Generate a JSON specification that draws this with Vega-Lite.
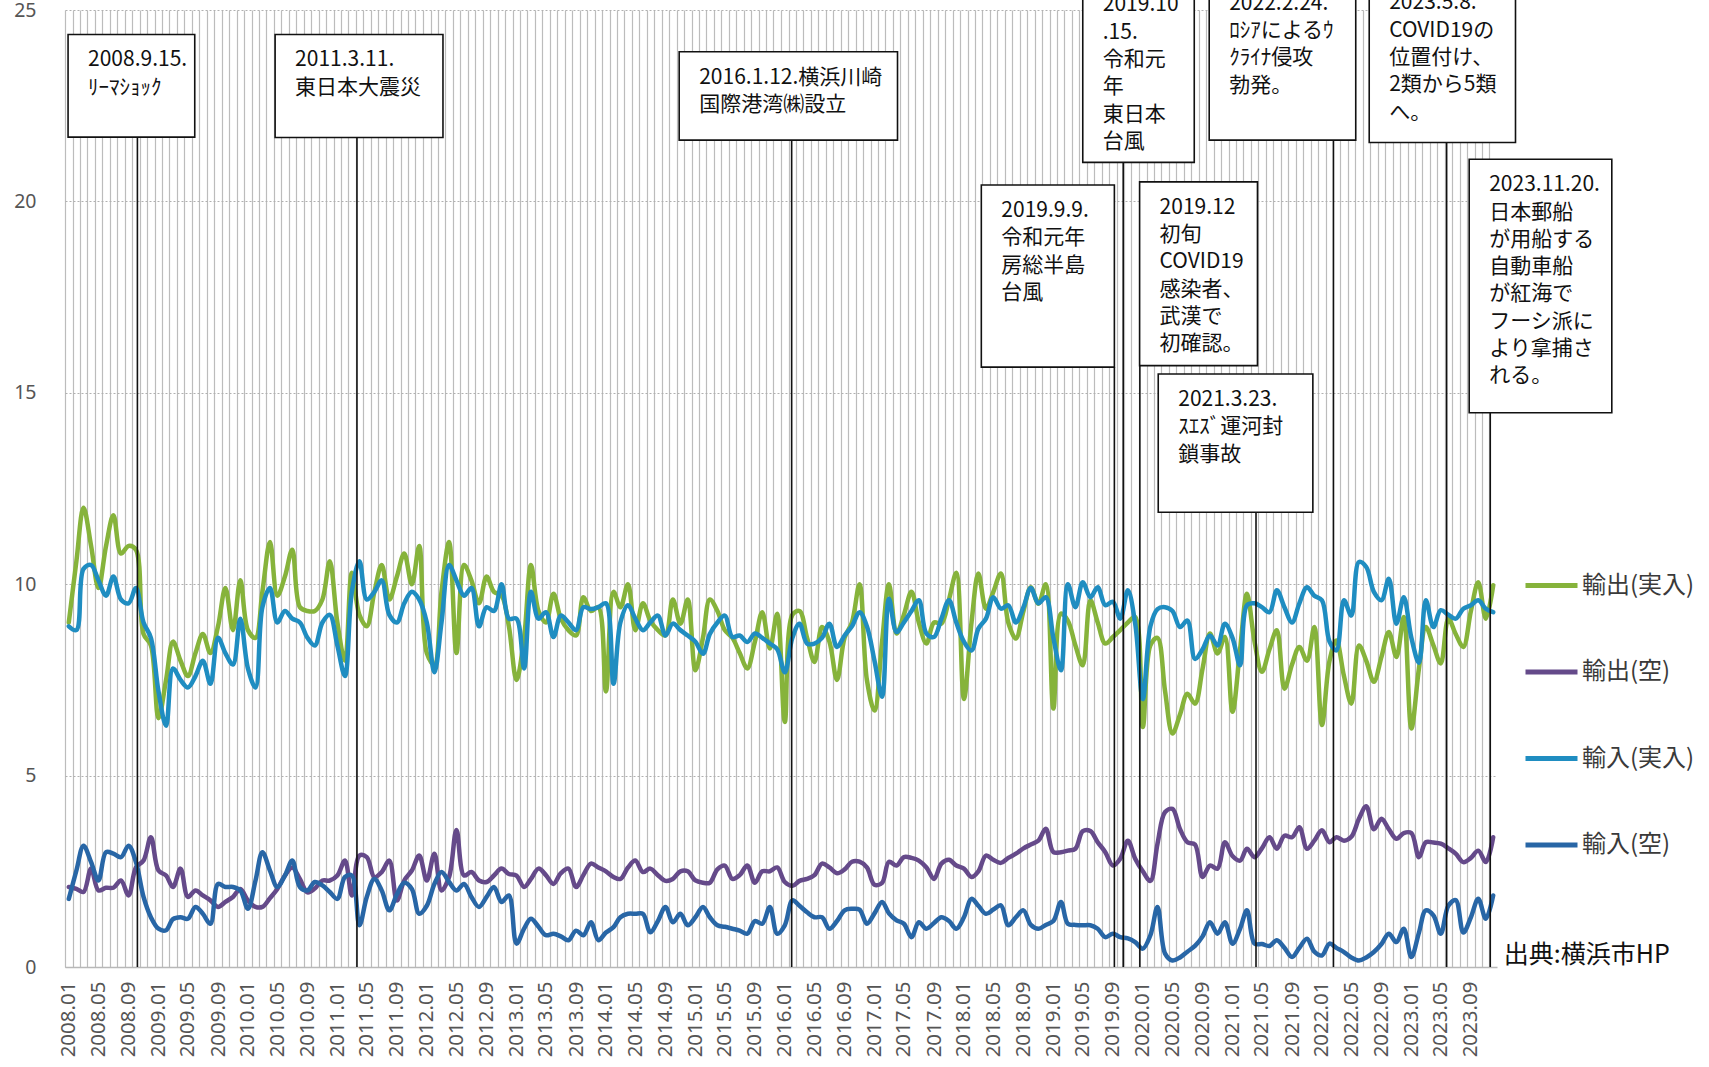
{
"$schema":"https://vega.github.io/schema/vega-lite/v6.json",
"width":1432,"height":957,
"autosize":{"type":"none"},
"padding":{"left":65,"top":10,"right":212,"bottom":100},
"background":"white",
"config":{"view":{"stroke":null},"font":"Noto Sans CJK JP"},
"datasets":{
"monthly":[
{"月":"2008-01-01","輸出(実入)":9.0,"輸出(空)":2.09,"輸入(実入)":8.9,"輸入(空)":1.78},
{"月":"2008-02-01","輸出(実入)":10.6,"輸出(空)":2.04,"輸入(実入)":8.8,"輸入(空)":2.52},
{"月":"2008-03-01","輸出(実入)":12.0,"輸出(空)":1.96,"輸入(実入)":10.4,"輸入(空)":3.17},
{"月":"2008-04-01","輸出(実入)":11.0,"輸出(空)":2.57,"輸入(実入)":10.5,"輸入(空)":2.74},
{"月":"2008-05-01","輸出(実入)":9.9,"輸出(空)":2.0,"輸入(実入)":10.1,"輸入(空)":2.26},
{"月":"2008-06-01","輸出(実入)":11.0,"輸出(空)":2.07,"輸入(実入)":9.7,"輸入(空)":3.0},
{"月":"2008-07-01","輸出(実入)":11.8,"輸出(空)":2.07,"輸入(実入)":10.2,"輸入(空)":2.96},
{"月":"2008-08-01","輸出(実入)":10.8,"輸出(空)":2.26,"輸入(実入)":9.6,"輸入(空)":2.87},
{"月":"2008-09-01","輸出(実入)":11.0,"輸出(空)":1.87,"輸入(実入)":9.5,"輸入(空)":3.17},
{"月":"2008-10-01","輸出(実入)":10.9,"輸出(空)":2.6,"輸入(実入)":9.9,"輸入(空)":2.74},
{"月":"2008-11-01","輸出(実入)":8.7,"輸出(空)":2.78,"輸入(実入)":9.0,"輸入(空)":1.83},
{"月":"2008-12-01","輸出(実入)":8.4,"輸出(空)":3.39,"輸入(実入)":8.6,"輸入(空)":1.3},
{"月":"2009-01-01","輸出(実入)":6.5,"輸出(空)":2.52,"輸入(実入)":7.2,"輸入(空)":1.0},
{"月":"2009-02-01","輸出(実入)":7.5,"輸出(空)":2.39,"輸入(実入)":6.3,"輸入(空)":0.96},
{"月":"2009-03-01","輸出(実入)":8.5,"輸出(空)":2.09,"輸入(実入)":7.8,"輸入(空)":1.25},
{"月":"2009-04-01","輸出(実入)":8.0,"輸出(空)":2.57,"輸入(実入)":7.5,"輸入(空)":1.3},
{"月":"2009-05-01","輸出(実入)":7.6,"輸出(空)":1.83,"輸入(実入)":7.3,"輸入(空)":1.26},
{"月":"2009-06-01","輸出(実入)":8.2,"輸出(空)":2.0,"輸入(実入)":7.6,"輸入(空)":1.57},
{"月":"2009-07-01","輸出(実入)":8.7,"輸出(空)":1.87,"輸入(実入)":8.0,"輸入(空)":1.39},
{"月":"2009-08-01","輸出(実入)":8.2,"輸出(空)":1.74,"輸入(実入)":7.4,"輸入(空)":1.13},
{"月":"2009-09-01","輸出(実入)":8.9,"輸出(空)":1.57,"輸入(実入)":8.6,"輸入(空)":2.17},
{"月":"2009-10-01","輸出(実入)":9.9,"輸出(空)":1.7,"輸入(実入)":8.2,"輸入(空)":2.09},
{"月":"2009-11-01","輸出(実入)":8.8,"輸出(空)":1.83,"輸入(実入)":7.9,"輸入(空)":2.09},
{"月":"2009-12-01","輸出(実入)":10.1,"輸出(空)":2.04,"輸入(実入)":9.1,"輸入(空)":2.0},
{"月":"2010-01-01","輸出(実入)":8.8,"輸出(空)":1.74,"輸入(実入)":7.8,"輸入(空)":1.52},
{"月":"2010-02-01","輸出(実入)":8.6,"輸出(空)":1.57,"輸入(実入)":7.3,"輸入(空)":2.26},
{"月":"2010-03-01","輸出(実入)":9.8,"輸出(空)":1.57,"輸入(実入)":9.4,"輸入(空)":3.0},
{"月":"2010-04-01","輸出(実入)":11.1,"輸出(空)":1.8,"輸入(実入)":9.9,"輸入(空)":2.52},
{"月":"2010-05-01","輸出(実入)":9.7,"輸出(空)":2.04,"輸入(実入)":9.0,"輸入(空)":2.09},
{"月":"2010-06-01","輸出(実入)":10.2,"輸出(空)":2.39,"輸入(実入)":9.3,"輸入(空)":2.39},
{"月":"2010-07-01","輸出(実入)":10.9,"輸出(空)":2.6,"輸入(実入)":9.1,"輸入(空)":2.78},
{"月":"2010-08-01","輸出(実入)":9.4,"輸出(空)":2.3,"輸入(実入)":9.0,"輸入(空)":2.09},
{"月":"2010-09-01","輸出(実入)":9.3,"輸出(空)":1.95,"輸入(実入)":8.6,"輸入(空)":2.0},
{"月":"2010-10-01","輸出(実入)":9.3,"輸出(空)":2.05,"輸入(実入)":8.4,"輸入(空)":2.22},
{"月":"2010-11-01","輸出(実入)":9.6,"輸出(空)":2.26,"輸入(実入)":9.0,"輸入(空)":2.13},
{"月":"2010-12-01","輸出(実入)":10.6,"輸出(空)":2.26,"輸入(実入)":9.2,"輸入(空)":1.96},
{"月":"2011-01-01","輸出(実入)":9.0,"輸出(空)":2.39,"輸入(実入)":8.4,"輸入(空)":1.78},
{"月":"2011-02-01","輸出(実入)":8.0,"輸出(空)":2.78,"輸入(実入)":7.6,"輸入(空)":2.35},
{"月":"2011-03-01","輸出(実入)":10.3,"輸出(空)":1.87,"輸入(実入)":9.8,"輸入(空)":2.39},
{"月":"2011-04-01","輸出(実入)":9.2,"輸出(空)":2.91,"輸入(実入)":10.6,"輸入(空)":1.09},
{"月":"2011-05-01","輸出(実入)":8.9,"輸出(空)":2.87,"輸入(実入)":9.6,"輸入(空)":1.83},
{"月":"2011-06-01","輸出(実入)":9.8,"輸出(空)":2.35,"輸入(実入)":9.8,"輸入(空)":2.3},
{"月":"2011-07-01","輸出(実入)":10.5,"輸出(空)":2.48,"輸入(実入)":10.1,"輸入(空)":2.0},
{"月":"2011-08-01","輸出(実入)":9.6,"輸出(空)":2.78,"輸入(実入)":9.2,"輸入(空)":1.48},
{"月":"2011-09-01","輸出(実入)":10.2,"輸出(空)":1.74,"輸入(実入)":9.0,"輸入(空)":1.9},
{"月":"2011-10-01","輸出(実入)":10.8,"輸出(空)":2.26,"輸入(実入)":9.5,"輸入(空)":2.2},
{"月":"2011-11-01","輸出(実入)":10.0,"輸出(空)":2.52,"輸入(実入)":9.8,"輸入(空)":2.04},
{"月":"2011-12-01","輸出(実入)":11.0,"輸出(空)":2.91,"輸入(実入)":9.6,"輸入(空)":1.39},
{"月":"2012-01-01","輸出(実入)":8.2,"輸出(空)":2.26,"輸入(実入)":9.0,"輸入(空)":1.6},
{"月":"2012-02-01","輸出(実入)":7.9,"輸出(空)":2.96,"輸入(実入)":7.7,"輸入(空)":2.17},
{"月":"2012-03-01","輸出(実入)":9.8,"輸出(空)":2.0,"輸入(実入)":9.0,"輸入(空)":2.48},
{"月":"2012-04-01","輸出(実入)":11.1,"輸出(空)":2.35,"輸入(実入)":10.5,"輸入(空)":2.22},
{"月":"2012-05-01","輸出(実入)":8.2,"輸出(空)":3.58,"輸入(実入)":10.1,"輸入(空)":2.0},
{"月":"2012-06-01","輸出(実入)":10.5,"輸出(空)":2.39,"輸入(実入)":9.7,"輸入(空)":2.17},
{"月":"2012-07-01","輸出(実入)":10.1,"輸出(空)":2.48,"輸入(実入)":9.9,"輸入(空)":1.83},
{"月":"2012-08-01","輸出(実入)":9.5,"輸出(空)":2.26,"輸入(実入)":8.9,"輸入(空)":1.57},
{"月":"2012-09-01","輸出(実入)":10.2,"輸出(空)":2.22,"輸入(実入)":9.4,"輸入(空)":1.83},
{"月":"2012-10-01","輸出(実入)":9.8,"輸出(空)":2.39,"輸入(実入)":9.3,"輸入(空)":2.09},
{"月":"2012-11-01","輸出(実入)":9.7,"輸出(空)":2.57,"輸入(実入)":10.0,"輸入(空)":1.7},
{"月":"2012-12-01","輸出(実入)":8.9,"輸出(空)":2.43,"輸入(実入)":9.1,"輸入(空)":1.87},
{"月":"2013-01-01","輸出(実入)":7.5,"輸出(空)":2.39,"輸入(実入)":9.1,"輸入(空)":0.61},
{"月":"2013-02-01","輸出(実入)":8.6,"輸出(空)":2.09,"輸入(実入)":7.8,"輸入(空)":1.0},
{"月":"2013-03-01","輸出(実入)":10.5,"輸出(空)":2.3,"輸入(実入)":9.8,"輸入(空)":1.26},
{"月":"2013-04-01","輸出(実入)":9.3,"輸出(空)":2.57,"輸入(実入)":9.1,"輸入(空)":1.05},
{"月":"2013-05-01","輸出(実入)":9.0,"輸出(空)":2.4,"輸入(実入)":9.27,"輸入(空)":0.83},
{"月":"2013-06-01","輸出(実入)":9.75,"輸出(空)":2.17,"輸入(実入)":8.62,"輸入(空)":0.87},
{"月":"2013-07-01","輸出(実入)":9.1,"輸出(空)":2.45,"輸入(実入)":9.18,"輸入(空)":0.8},
{"月":"2013-08-01","輸出(実入)":8.8,"輸出(空)":2.57,"輸入(実入)":9.0,"輸入(空)":0.7},
{"月":"2013-09-01","輸出(実入)":8.66,"輸出(空)":2.09,"輸入(実入)":8.8,"輸入(空)":0.95},
{"月":"2013-10-01","輸出(実入)":9.66,"輸出(空)":2.4,"輸入(実入)":9.4,"輸入(空)":0.83},
{"月":"2013-11-01","輸出(実入)":9.3,"輸出(空)":2.7,"輸入(実入)":9.35,"輸入(空)":1.17},
{"月":"2013-12-01","輸出(実入)":9.4,"輸出(空)":2.6,"輸入(実入)":9.4,"輸入(空)":0.7},
{"月":"2014-01-01","輸出(実入)":7.2,"輸出(空)":2.5,"輸入(実入)":9.5,"輸入(空)":0.9},
{"月":"2014-02-01","輸出(実入)":9.8,"輸出(空)":2.35,"輸入(実入)":7.4,"輸入(空)":1.04},
{"月":"2014-03-01","輸出(実入)":9.4,"輸出(空)":2.3,"輸入(実入)":9.0,"輸入(空)":1.3},
{"月":"2014-04-01","輸出(実入)":10.0,"輸出(空)":2.6,"輸入(実入)":9.45,"輸入(空)":1.39},
{"月":"2014-05-01","輸出(実入)":8.8,"輸出(空)":2.78,"輸入(実入)":9.1,"輸入(空)":1.39},
{"月":"2014-06-01","輸出(実入)":9.5,"輸出(空)":2.48,"輸入(実入)":8.8,"輸入(空)":1.39},
{"月":"2014-07-01","輸出(実入)":9.05,"輸出(空)":2.57,"輸入(実入)":9.0,"輸入(空)":0.91},
{"月":"2014-08-01","輸出(実入)":8.8,"輸出(空)":2.4,"輸入(実入)":9.18,"輸入(空)":1.2},
{"月":"2014-09-01","輸出(実入)":8.66,"輸出(空)":2.25,"輸入(実入)":8.66,"輸入(空)":1.57},
{"月":"2014-10-01","輸出(実入)":9.6,"輸出(空)":2.3,"輸入(実入)":8.97,"輸入(空)":1.17},
{"月":"2014-11-01","輸出(実入)":8.97,"輸出(空)":2.5,"輸入(実入)":8.8,"輸入(空)":1.39},
{"月":"2014-12-01","輸出(実入)":9.6,"輸出(空)":2.5,"輸入(実入)":8.66,"輸入(空)":1.09},
{"月":"2015-01-01","輸出(実入)":7.75,"輸出(空)":2.26,"輸入(実入)":8.5,"輸入(空)":1.3},
{"月":"2015-02-01","輸出(実入)":8.6,"輸出(空)":2.2,"輸入(実入)":8.18,"輸入(空)":1.57},
{"月":"2015-03-01","輸出(実入)":9.6,"輸出(空)":2.2,"輸入(実入)":8.7,"輸入(空)":1.3},
{"月":"2015-04-01","輸出(実入)":9.3,"輸出(空)":2.55,"輸入(実入)":9.0,"輸入(空)":1.09},
{"月":"2015-05-01","輸出(実入)":8.8,"輸出(空)":2.65,"輸入(実入)":9.18,"輸入(空)":1.05},
{"月":"2015-06-01","輸出(実入)":8.6,"輸出(空)":2.3,"輸入(実入)":8.62,"輸入(空)":1.0},
{"月":"2015-07-01","輸出(実入)":8.2,"輸出(空)":2.4,"輸入(実入)":8.66,"輸入(空)":0.95},
{"月":"2015-08-01","輸出(実入)":7.8,"輸出(空)":2.65,"輸入(実入)":8.49,"輸入(空)":0.87},
{"月":"2015-09-01","輸出(実入)":8.5,"輸出(空)":2.2,"輸入(実入)":8.71,"輸入(空)":1.2},
{"月":"2015-10-01","輸出(実入)":9.27,"輸出(空)":2.5,"輸入(実入)":8.6,"輸入(空)":1.13},
{"月":"2015-11-01","輸出(実入)":8.32,"輸出(空)":2.5,"輸入(実入)":8.45,"輸入(空)":1.57},
{"月":"2015-12-01","輸出(実入)":9.23,"輸出(空)":2.6,"輸入(実入)":8.3,"輸入(空)":0.87},
{"月":"2016-01-01","輸出(実入)":6.4,"輸出(空)":2.22,"輸入(実入)":7.7,"輸入(空)":1.09},
{"月":"2016-02-01","輸出(実入)":9.2,"輸出(空)":2.12,"輸入(実入)":8.6,"輸入(空)":1.74},
{"月":"2016-03-01","輸出(実入)":9.3,"輸出(空)":2.25,"輸入(実入)":8.97,"輸入(空)":1.6},
{"月":"2016-04-01","輸出(実入)":8.6,"輸出(空)":2.3,"輸入(実入)":8.45,"輸入(空)":1.43},
{"月":"2016-05-01","輸出(実入)":7.97,"輸出(空)":2.4,"輸入(実入)":8.45,"輸入(空)":1.3},
{"月":"2016-06-01","輸出(実入)":8.88,"輸出(空)":2.7,"輸入(実入)":8.6,"輸入(空)":1.3},
{"月":"2016-07-01","輸出(実入)":8.5,"輸出(空)":2.6,"輸入(実入)":8.97,"輸入(空)":1.0},
{"月":"2016-08-01","輸出(実入)":7.5,"輸出(空)":2.45,"輸入(実入)":8.36,"輸入(空)":1.2},
{"月":"2016-09-01","輸出(実入)":8.6,"輸出(空)":2.55,"輸入(実入)":8.66,"輸入(空)":1.48},
{"月":"2016-10-01","輸出(実入)":9.0,"輸出(空)":2.75,"輸入(実入)":8.9,"輸入(空)":1.52},
{"月":"2016-11-01","輸出(実入)":10.0,"輸出(空)":2.75,"輸入(実入)":9.27,"輸入(空)":1.5},
{"月":"2016-12-01","輸出(実入)":7.5,"輸出(空)":2.6,"輸入(実入)":8.9,"輸入(空)":1.13},
{"月":"2017-01-01","輸出(実入)":6.7,"輸出(空)":2.15,"輸入(実入)":8.0,"輸入(空)":1.4},
{"月":"2017-02-01","輸出(実入)":8.5,"輸出(空)":2.2,"輸入(実入)":7.06,"輸入(空)":1.7},
{"月":"2017-03-01","輸出(実入)":10.0,"輸出(空)":2.75,"輸入(実入)":9.62,"輸入(空)":1.4},
{"月":"2017-04-01","輸出(実入)":8.71,"輸出(空)":2.65,"輸入(実入)":8.75,"輸入(空)":1.22},
{"月":"2017-05-01","輸出(実入)":9.2,"輸出(空)":2.87,"輸入(実入)":9.0,"輸入(空)":1.13},
{"月":"2017-06-01","輸出(実入)":9.8,"輸出(空)":2.85,"輸入(実入)":9.3,"輸入(空)":0.78},
{"月":"2017-07-01","輸出(実入)":9.0,"輸出(空)":2.78,"輸入(実入)":9.58,"輸入(空)":1.17},
{"月":"2017-08-01","輸出(実入)":8.45,"輸出(空)":2.6,"輸入(実入)":8.71,"輸入(空)":1.0},
{"月":"2017-09-01","輸出(実入)":9.0,"輸出(空)":2.3,"輸入(実入)":8.62,"輸入(空)":1.15},
{"月":"2017-10-01","輸出(実入)":8.97,"輸出(空)":2.7,"輸入(実入)":9.1,"輸入(空)":1.3},
{"月":"2017-11-01","輸出(実入)":9.6,"輸出(空)":2.8,"輸入(実入)":9.58,"輸入(空)":1.2},
{"月":"2017-12-01","輸出(実入)":10.3,"輸出(空)":2.65,"輸入(実入)":9.0,"輸入(空)":1.0},
{"月":"2018-01-01","輸出(実入)":7.0,"輸出(空)":2.57,"輸入(実入)":8.5,"輸入(空)":1.3},
{"月":"2018-02-01","輸出(実入)":9.0,"輸出(空)":2.35,"輸入(実入)":8.27,"輸入(空)":1.78},
{"月":"2018-03-01","輸出(実入)":10.28,"輸出(空)":2.5,"輸入(実入)":8.84,"輸入(空)":1.6},
{"月":"2018-04-01","輸出(実入)":9.36,"輸出(空)":2.91,"輸入(実入)":9.1,"輸入(空)":1.39},
{"月":"2018-05-01","輸出(実入)":9.8,"輸出(空)":2.8,"輸入(実入)":9.66,"輸入(空)":1.5},
{"月":"2018-06-01","輸出(実入)":10.28,"輸出(空)":2.72,"輸入(実入)":9.36,"輸入(空)":1.61},
{"月":"2018-07-01","輸出(実入)":9.0,"輸出(空)":2.85,"輸入(実入)":9.45,"輸入(空)":1.09},
{"月":"2018-08-01","輸出(実入)":8.58,"輸出(空)":2.96,"輸入(実入)":9.0,"輸入(空)":1.3},
{"月":"2018-09-01","輸出(実入)":9.3,"輸出(空)":3.1,"輸入(実入)":9.4,"輸入(空)":1.48},
{"月":"2018-10-01","輸出(実入)":9.92,"輸出(空)":3.2,"輸入(実入)":9.9,"輸入(空)":1.1},
{"月":"2018-11-01","輸出(実入)":9.49,"輸出(空)":3.3,"輸入(実入)":9.5,"輸入(空)":1.0},
{"月":"2018-12-01","輸出(実入)":10.0,"輸出(空)":3.61,"輸入(実入)":9.66,"輸入(空)":1.1},
{"月":"2019-01-01","輸出(実入)":6.75,"輸出(空)":3.0,"輸入(実入)":8.6,"輸入(空)":1.2},
{"月":"2019-02-01","輸出(実入)":9.23,"輸出(空)":3.0,"輸入(実入)":7.75,"輸入(空)":1.7},
{"月":"2019-03-01","輸出(実入)":9.05,"輸出(空)":3.04,"輸入(実入)":10.0,"輸入(空)":1.13},
{"月":"2019-04-01","輸出(実入)":8.4,"輸出(空)":3.09,"輸入(実入)":9.4,"輸入(空)":1.1},
{"月":"2019-05-01","輸出(実入)":7.88,"輸出(空)":3.55,"輸入(実入)":10.05,"輸入(空)":1.09},
{"月":"2019-06-01","輸出(実入)":9.58,"輸出(空)":3.55,"輸入(実入)":9.66,"輸入(空)":1.09},
{"月":"2019-07-01","輸出(実入)":9.0,"輸出(空)":3.26,"輸入(実入)":9.92,"輸入(空)":1.0},
{"月":"2019-08-01","輸出(実入)":8.45,"輸出(空)":3.0,"輸入(実入)":9.45,"輸入(空)":0.78},
{"月":"2019-09-01","輸出(実入)":8.62,"輸出(空)":2.65,"輸入(実入)":9.54,"輸入(空)":0.87},
{"月":"2019-10-01","輸出(実入)":8.8,"輸出(空)":2.83,"輸入(実入)":9.1,"輸入(空)":0.78},
{"月":"2019-11-01","輸出(実入)":9.0,"輸出(空)":3.3,"輸入(実入)":9.84,"輸入(空)":0.75},
{"月":"2019-12-01","輸出(実入)":9.14,"輸出(空)":2.83,"輸入(実入)":8.97,"輸入(空)":0.65},
{"月":"2020-01-01","輸出(実入)":6.27,"輸出(空)":2.5,"輸入(実入)":7.0,"輸入(空)":0.48},
{"月":"2020-02-01","輸出(実入)":8.4,"輸出(空)":2.25,"輸入(実入)":8.9,"輸入(空)":0.83},
{"月":"2020-03-01","輸出(実入)":8.6,"輸出(空)":3.22,"輸入(実入)":9.35,"輸入(空)":1.57},
{"月":"2020-04-01","輸出(実入)":7.2,"輸出(空)":4.05,"輸入(実入)":9.4,"輸入(空)":0.35},
{"月":"2020-05-01","輸出(実入)":6.1,"輸出(空)":4.13,"輸入(実入)":9.3,"輸入(空)":0.17},
{"月":"2020-06-01","輸出(実入)":6.6,"輸出(空)":3.6,"輸入(実入)":8.88,"輸入(空)":0.25},
{"月":"2020-07-01","輸出(実入)":7.14,"輸出(空)":3.26,"輸入(実入)":9.05,"輸入(空)":0.4},
{"月":"2020-08-01","輸出(実入)":6.88,"輸出(空)":3.2,"輸入(実入)":8.05,"輸入(空)":0.55},
{"月":"2020-09-01","輸出(実入)":7.8,"輸出(空)":2.35,"輸入(実入)":8.3,"輸入(空)":0.8},
{"月":"2020-10-01","輸出(実入)":8.71,"輸出(空)":2.65,"輸入(実入)":8.66,"輸入(空)":1.17},
{"月":"2020-11-01","輸出(実入)":8.19,"輸出(空)":2.57,"輸入(実入)":8.4,"輸入(空)":0.87},
{"月":"2020-12-01","輸出(実入)":8.62,"輸出(空)":3.26,"輸入(実入)":8.97,"輸入(空)":1.17},
{"月":"2021-01-01","輸出(実入)":6.67,"輸出(空)":2.9,"輸入(実入)":8.6,"輸入(空)":0.61},
{"月":"2021-02-01","輸出(実入)":8.3,"輸出(空)":2.78,"輸入(実入)":7.88,"輸入(空)":1.0},
{"月":"2021-03-01","輸出(実入)":9.75,"輸出(空)":3.09,"輸入(実入)":9.45,"輸入(空)":1.48},
{"月":"2021-04-01","輸出(実入)":8.5,"輸出(空)":2.87,"輸入(実入)":9.5,"輸入(空)":0.61},
{"月":"2021-05-01","輸出(実入)":7.71,"輸出(空)":3.1,"輸入(実入)":9.4,"輸入(空)":0.6},
{"月":"2021-06-01","輸出(実入)":8.3,"輸出(空)":3.39,"輸入(実入)":9.27,"輸入(空)":0.55},
{"月":"2021-07-01","輸出(実入)":8.8,"輸出(空)":3.09,"輸入(実入)":9.84,"輸入(空)":0.7},
{"月":"2021-08-01","輸出(実入)":7.27,"輸出(空)":3.43,"輸入(実入)":9.4,"輸入(空)":0.5},
{"月":"2021-09-01","輸出(実入)":7.9,"輸出(空)":3.39,"輸入(実入)":9.0,"輸入(空)":0.26},
{"月":"2021-10-01","輸出(実入)":8.36,"輸出(空)":3.65,"輸入(実入)":9.5,"輸入(空)":0.5},
{"月":"2021-11-01","輸出(実入)":8.0,"輸出(空)":3.09,"輸入(実入)":9.92,"輸入(空)":0.74},
{"月":"2021-12-01","輸出(実入)":8.88,"輸出(空)":3.3,"輸入(実入)":9.7,"輸入(空)":0.4},
{"月":"2022-01-01","輸出(実入)":6.32,"輸出(空)":3.57,"輸入(実入)":9.58,"輸入(空)":0.3},
{"月":"2022-02-01","輸出(実入)":8.0,"輸出(空)":3.26,"輸入(実入)":8.5,"輸入(空)":0.61},
{"月":"2022-03-01","輸出(実入)":8.53,"輸出(空)":3.39,"輸入(実入)":8.27,"輸入(空)":0.5},
{"月":"2022-04-01","輸出(実入)":7.6,"輸出(空)":3.3,"輸入(実入)":9.58,"輸入(空)":0.39},
{"月":"2022-05-01","輸出(実入)":6.88,"輸出(空)":3.4,"輸入(実入)":9.18,"輸入(空)":0.25},
{"月":"2022-06-01","輸出(実入)":8.4,"輸出(空)":3.87,"輸入(実入)":10.58,"輸入(空)":0.17},
{"月":"2022-07-01","輸出(実入)":8.0,"輸出(空)":4.2,"輸入(実入)":10.45,"輸入(空)":0.25},
{"月":"2022-08-01","輸出(実入)":7.45,"輸出(空)":3.6,"輸入(実入)":9.8,"輸入(空)":0.39},
{"月":"2022-09-01","輸出(実入)":8.1,"輸出(空)":3.87,"輸入(実入)":9.58,"輸入(空)":0.6},
{"月":"2022-10-01","輸出(実入)":8.75,"輸出(空)":3.6,"輸入(実入)":10.14,"輸入(空)":0.87},
{"月":"2022-11-01","輸出(実入)":8.1,"輸出(空)":3.35,"輸入(実入)":8.97,"輸入(空)":0.65},
{"月":"2022-12-01","輸出(実入)":9.14,"輸出(空)":3.5,"輸入(実入)":9.66,"輸入(空)":1.0},
{"月":"2023-01-01","輸出(実入)":6.23,"輸出(空)":3.5,"輸入(実入)":8.6,"輸入(空)":0.26},
{"月":"2023-02-01","輸出(実入)":7.8,"輸出(空)":2.87,"輸入(実入)":7.95,"輸入(空)":0.9},
{"月":"2023-03-01","輸出(実入)":8.88,"輸出(空)":3.26,"輸入(実入)":9.58,"輸入(空)":1.48},
{"月":"2023-04-01","輸出(実入)":8.4,"輸出(空)":3.25,"輸入(実入)":8.88,"輸入(空)":1.35},
{"月":"2023-05-01","輸出(実入)":7.93,"輸出(空)":3.22,"輸入(実入)":9.32,"輸入(空)":0.87},
{"月":"2023-06-01","輸出(実入)":9.1,"輸出(空)":3.1,"輸入(実入)":9.2,"輸入(空)":1.6},
{"月":"2023-07-01","輸出(実入)":8.7,"輸出(空)":2.96,"輸入(実入)":9.1,"輸入(空)":1.75},
{"月":"2023-08-01","輸出(実入)":8.36,"輸出(空)":2.74,"輸入(実入)":9.36,"輸入(空)":0.9},
{"月":"2023-09-01","輸出(実入)":9.3,"輸出(空)":2.85,"輸入(実入)":9.45,"輸入(空)":1.3},
{"月":"2023-10-01","輸出(実入)":10.05,"輸出(空)":3.04,"輸入(実入)":9.58,"輸入(空)":1.78},
{"月":"2023-11-01","輸出(実入)":9.1,"輸出(空)":2.74,"輸入(実入)":9.36,"輸入(空)":1.26},
{"月":"2023-12-01","輸出(実入)":9.97,"輸出(空)":3.39,"輸入(実入)":9.27,"輸入(空)":1.87}
],
"events":[
{"t":"2008.9.15.\nﾘｰﾏｼｮｯｸ","lx":"2008-10-07","ly":21.68,"x1":"2007-12-29","x2":"2009-05-29","y1":24.36,"y2":21.68},
{"t":"2011.3.11.\n東日本大震災","lx":"2011-03-22","ly":21.67,"x1":"2010-04-22","x2":"2012-03-07","y1":24.36,"y2":21.67},
{"t":"2016.1.12.横浜川崎\n国際港湾㈱設立","lx":"2016-01-29","ly":21.6,"x1":"2014-10-27","x2":"2017-04-05","y1":23.91,"y2":21.6},
{"t":"2019.9.9.\n令和元年\n房総半島\n台風","lx":"2019-09-07","ly":15.67,"x1":"2018-03-13","x2":"2019-09-07","y1":20.43,"y2":15.67},
{"t":"2019.10\n.15.\n令和元\n年\n東日本\n台風","lx":"2019-10-13","ly":21.02,"x1":"2019-05-01","x2":"2020-07-29","y1":25.8,"y2":21.02},
{"t":"2019.12\n初旬\nCOVID19\n感染者、\n武漢で\n初確認。","lx":"2019-12-20","ly":15.71,"x1":"2019-12-19","x2":"2021-04-13","y1":20.51,"y2":15.71},
{"t":"2021.3.23.\nｽｴｽﾞ運河封\n鎖事故","lx":"2021-04-07","ly":11.88,"x1":"2020-03-04","x2":"2021-11-25","y1":15.49,"y2":11.88},
{"t":"2022.2.24.\nﾛｼｱによるｳ\nｸﾗｲﾅ侵攻\n勃発。","lx":"2022-02-17","ly":21.6,"x1":"2020-09-28","x2":"2022-05-19","y1":25.84,"y2":21.6},
{"t":"2023.5.8.\nCOVID19の\n位置付け、\n2類から5類\nへ。","lx":"2023-05-25","ly":21.54,"x1":"2022-07-13","x2":"2024-03-01","y1":25.85,"y2":21.54},
{"t":"2023.11.20.\n日本郵船\nが用船する\n自動車船\nが紅海で\nフーシ派に\nより拿捕さ\nれる。","lx":"2023-11-19","ly":14.48,"x1":"2023-08-25","x2":"2025-03-29","y1":21.1,"y2":14.48}
]
},
"layer":[
{
"data":{"name":"monthly"},
"transform":[{"fold":["輸出(実入)","輸出(空)","輸入(実入)","輸入(空)"],"as":["系列","値"]}],
"mark":{"type":"line","strokeWidth":4.5,"interpolate":"catmull-rom","strokeCap":"round","strokeJoin":"round"},
"encoding":{
"x":{"field":"月","type":"temporal","scale":{"type":"utc","nice":false,"domain":[{"year":2007,"month":12,"date":16,"hours":12,"utc":true},{"year":2023,"month":12,"date":16,"hours":12,"utc":true}]},
"axis":{"title":null,"tickCount":{"interval":"month","step":1},"labelExpr":"utcmonth(datum.value) % 4 == 0 ? utcFormat(datum.value, '%Y.%m') : ''","labelAngle":-90,"labelAlign":"right","labelBaseline":"middle","labelPadding":14,"labelFontSize":20.5,"labelFont":"Noto Sans","labelColor":"#555555","labelOverlap":false,"labelFlush":false,"labelBound":false,"ticks":false,"domain":true,"domainColor":"#b8b8b8","domainWidth":1.5,"grid":true,"gridColor":"#bcbcbc","gridWidth":1.2,"tickOffset":-3.73,"labelOffset":3.73}},
"y":{"field":"値","type":"quantitative","scale":{"domain":[0,25],"nice":false,"zero":false},
"axis":{"title":null,"values":[0,5,10,15,20,25],"labelFontSize":19.5,"labelFont":"Noto Sans","labelColor":"#555555","labelPadding":29,"domain":false,"ticks":false,"grid":true,"gridColor":"#b0b0b0","gridDash":[2,2],"gridWidth":1}},
"color":{"field":"系列","type":"nominal","scale":{"domain":["輸出(実入)","輸出(空)","輸入(実入)","輸入(空)"],"range":["#86b33b","#654a8a","#1f8dc1","#2866a6"]},
"legend":{"title":null,"orient":"none","legendX":1458,"legendY":547,"direction":"vertical","symbolType":"stroke","symbolSize":2704,"symbolStrokeWidth":5,"labelFontSize":24,"labelFont":"Noto Sans CJK JP","labelColor":"#3a3a3a","labelOffset":2,"rowPadding":45.5,"padding":0,"labelLimit":300}}
}
},
{
"data":{"name":"events"},
"mark":{"type":"rule","color":"#111111","strokeWidth":1.6},
"encoding":{
"x":{"field":"lx","type":"temporal","scale":{"type":"utc","nice":false,"domain":[{"year":2007,"month":12,"date":16,"hours":12,"utc":true},{"year":2023,"month":12,"date":16,"hours":12,"utc":true}]},"axis":{"title":null}},
"y":{"field":"ly","type":"quantitative","scale":{"domain":[0,25],"nice":false,"zero":false},"axis":{"title":null}},
"y2":{"datum":0}
}
},
{
"data":{"name":"events"},
"mark":{"type":"rect","fill":"white","stroke":"#111111","strokeWidth":1.6},
"encoding":{
"x":{"field":"x1","type":"temporal","scale":{"type":"utc","nice":false,"domain":[{"year":2007,"month":12,"date":16,"hours":12,"utc":true},{"year":2023,"month":12,"date":16,"hours":12,"utc":true}]},"axis":{"title":null}},
"x2":{"field":"x2"},
"y":{"field":"y1","type":"quantitative","scale":{"domain":[0,25],"nice":false,"zero":false},"axis":{"title":null}},
"y2":{"field":"y2"}
}
},
{
"data":{"name":"events"},
"mark":{"type":"text","align":"left","baseline":"alphabetic","dx":20,"dy":32,"fontSize":21,"lineHeight":27.3,"lineBreak":"\n","color":"#111111","font":"Noto Sans CJK JP"},
"encoding":{
"x":{"field":"x1","type":"temporal","scale":{"type":"utc","nice":false,"domain":[{"year":2007,"month":12,"date":16,"hours":12,"utc":true},{"year":2023,"month":12,"date":16,"hours":12,"utc":true}]},"axis":{"title":null}},
"y":{"field":"y1","type":"quantitative","scale":{"domain":[0,25],"nice":false,"zero":false},"axis":{"title":null}},
"text":{"field":"t","type":"nominal"}
}
},
{
"data":{"values":[{"x":"2024-01-13","y":0.31,"t":"出典:横浜市HP"}]},
"mark":{"type":"text","align":"left","baseline":"middle","fontSize":25,"color":"#111111","font":"Noto Sans CJK JP"},
"encoding":{
"x":{"field":"x","type":"temporal","scale":{"type":"utc","nice":false,"domain":[{"year":2007,"month":12,"date":16,"hours":12,"utc":true},{"year":2023,"month":12,"date":16,"hours":12,"utc":true}]},"axis":{"title":null}},
"y":{"field":"y","type":"quantitative","scale":{"domain":[0,25],"nice":false,"zero":false},"axis":{"title":null}},
"text":{"field":"t","type":"nominal"}
}
}
]
}
